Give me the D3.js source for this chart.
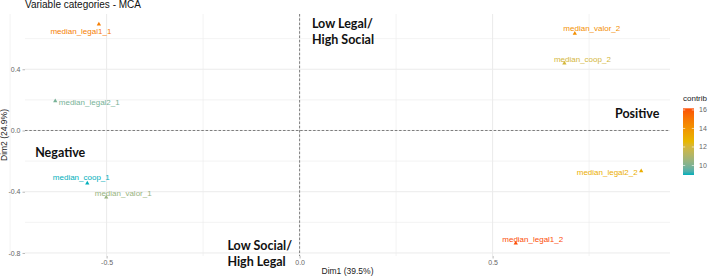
<html>
<head>
<style type="text/css">
  body { margin: 0; background: #fff; }
  text { font-family: "Liberation Sans", Arial, sans-serif; }
  .grid { stroke: #ebebeb; fill: none; }
  .zero { stroke: #333; stroke-width: 0.6; stroke-dasharray: 2.5,1.8; }
  .tick-text { fill: #666; font-size: 7px; }
  .tick-mark { stroke: #888; stroke-width: 0.6; }
  .quad { font-family: Lato, "Open Sans", sans-serif; font-weight: bold; font-size: 12.5px; fill: #111; }
  .cat { font-size: 8px; }
</style>
<script src="https://cdn.jsdelivr.net/npm/d3@7"></script>
</head>
<body>
<script type="text/javascript">

// MCA variable categories
var categories = ["median_legal1_1", "median_legal1_2", "median_legal2_1", "median_legal2_2",
                  "median_coop_1", "median_coop_2", "median_valor_1", "median_valor_2"];
var dim1 = [-0.520, 0.560, -0.633, 0.885, -0.550, 0.686, -0.501, 0.713];
var dim2 = [0.694, -0.737, 0.193, -0.265, -0.345, 0.439, -0.437, 0.633];
var contrib = [14.8, 16.18, 9.9, 13.0, 8.97, 12.0, 10.5, 14.2];

var xTicks = [-0.5, 0.0, 0.5];
var yTicks = [0.4, 0.0, -0.4, -0.8];
var xMinor = [-0.75, -0.25, 0.25, 0.75];
var yMinor = [0.6, 0.2, -0.2, -0.6];
var legendTicks = [10, 12, 14, 16];

// quadrant notes, anchored in data coords
var notes = [
  {lines: ["Low Legal/", "High Social"], x: 0.032, y: 0.670},
  {lines: ["Low Social/", "High Legal"], x: -0.187, y: -0.781},
  {lines: ["Negative"], x: -0.685, y: -0.173},
  {lines: ["Positive"], x: 0.817, y: 0.082}
];

// label offsets (px) as placed by repel in the original
var labelShift = [[-18, 7], [17, -4], [34, 1], [-34, 1], [-6, -6], [18, -4], [17, -4], [17, -5]];

var W = 708, H = 278;
var pLeft = 25, pRight = 670, pTop = 14, pBottom = 256;

var x = d3.scaleLinear().domain([-0.7114, 0.9596]).range([pLeft, pRight]);
var y = d3.scaleLinear().domain([-0.820, 0.761]).range([pBottom, pTop]);

var cExt = d3.extent(contrib);
var color = d3.scaleLinear()
  .domain([cExt[0], (cExt[0] + cExt[1]) / 2, cExt[1]])
  .range(["#00AFBB", "#E7B800", "#FC4E07"])
  .interpolate(d3.interpolateLab);

var svg = d3.select("body").append("svg").attr("width", W).attr("height", H);

// grid
svg.selectAll("line.vminor").data(xMinor).enter().append("line")
  .attr("class", "grid").attr("stroke-width", 0.6)
  .attr("x1", function(d) { return x(d); }).attr("x2", function(d) { return x(d); })
  .attr("y1", pTop).attr("y2", pBottom);
svg.selectAll("line.hminor").data(yMinor).enter().append("line")
  .attr("class", "grid").attr("stroke-width", 0.6)
  .attr("y1", function(d) { return y(d); }).attr("y2", function(d) { return y(d); })
  .attr("x1", pLeft).attr("x2", pRight);
svg.selectAll("line.vmajor").data(xTicks).enter().append("line")
  .attr("class", "grid").attr("stroke-width", 1)
  .attr("x1", function(d) { return x(d); }).attr("x2", function(d) { return x(d); })
  .attr("y1", pTop).attr("y2", pBottom);
svg.selectAll("line.hmajor").data(yTicks).enter().append("line")
  .attr("class", "grid").attr("stroke-width", 1)
  .attr("y1", function(d) { return y(d); }).attr("y2", function(d) { return y(d); })
  .attr("x1", pLeft).attr("x2", pRight);

// axes
var fmt = function(d) { return d3.format(".1f")(d).replace("−", "-"); };
var xAxis = svg.append("g").attr("transform", "translate(0," + pBottom + ")")
  .call(d3.axisBottom(x).tickValues(xTicks).tickSize(2.5).tickPadding(2).tickFormat(fmt));
var yAxis = svg.append("g").attr("transform", "translate(" + pLeft + ",0)")
  .call(d3.axisLeft(y).tickValues(yTicks).tickSize(2.5).tickPadding(2).tickFormat(fmt));
[xAxis, yAxis].forEach(function(g) {
  g.attr("font-family", null).attr("font-size", null);
  g.select(".domain").remove();
  g.selectAll(".tick line").attr("class", "tick-mark");
  g.selectAll(".tick text").attr("class", "tick-text");
});

// zero lines
svg.append("line").attr("class", "zero")
  .attr("x1", pLeft).attr("x2", pRight).attr("y1", y(0)).attr("y2", y(0));
svg.append("line").attr("class", "zero")
  .attr("x1", x(0)).attr("x2", x(0)).attr("y1", pTop).attr("y2", pBottom);

// points
var idx = d3.range(categories.length);
svg.selectAll("path.pt").data(idx).enter().append("path")
  .attr("class", "pt")
  .attr("d", d3.symbol(d3.symbolTriangle).size(8))
  .attr("transform", function(i) { return "translate(" + x(dim1[i]) + "," + y(dim2[i]) + ")"; })
  .attr("fill", function(i) { return color(contrib[i]); });

svg.selectAll("text.cat").data(idx).enter().append("text")
  .attr("class", "cat")
  .attr("x", function(i) { return x(dim1[i]) + labelShift[i][0]; })
  .attr("y", function(i) { return y(dim2[i]) + labelShift[i][1]; })
  .attr("dy", "0.35em")
  .attr("text-anchor", "middle")
  .attr("fill", function(i) { return color(contrib[i]); })
  .text(function(i) { return categories[i]; });

// quadrant notes
notes.forEach(function(n) {
  var t = svg.append("text").attr("class", "quad")
    .attr("x", x(n.x)).attr("y", y(n.y));
  n.lines.forEach(function(l, k) {
    t.append("tspan").attr("x", x(n.x)).attr("dy", k ? 16 : 0).text(l);
  });
});

// titles
svg.append("text").attr("x", 25).attr("y", 8).attr("font-size", 10).attr("fill", "#111")
  .text("Variable categories - MCA");
svg.append("text").attr("x", (pLeft + pRight) / 2).attr("y", 274).attr("font-size", 8.5)
  .attr("text-anchor", "middle").attr("fill", "#222").text("Dim1 (39.5%)");
svg.append("text").attr("transform", "translate(7," + ((pTop + pBottom) / 2) + ") rotate(-90)")
  .attr("font-size", 8.5).attr("text-anchor", "middle").attr("fill", "#222").text("Dim2 (24.9%)");

// colour bar legend
var lgX = 683, lgW = 11, lgTop = 108.3, lgBot = 175;
var ly = d3.scaleLinear().domain(cExt).range([lgBot, lgTop]);
var grad = svg.append("defs").append("linearGradient").attr("id", "cbar")
  .attr("x1", 0).attr("y1", 1).attr("x2", 0).attr("y2", 0);
d3.range(0, 1.0001, 0.05).forEach(function(t) {
  grad.append("stop").attr("offset", t)
    .attr("stop-color", color(cExt[0] + t * (cExt[1] - cExt[0])));
});
svg.append("text").attr("x", lgX).attr("y", 101).attr("font-size", 8).attr("fill", "#222").text("contrib");
svg.append("rect").attr("x", lgX).attr("y", lgTop).attr("width", lgW).attr("height", lgBot - lgTop)
  .attr("fill", "url(#cbar)");
legendTicks.forEach(function(v) {
  svg.append("line").attr("x1", lgX).attr("x2", lgX + 2.2).attr("y1", ly(v)).attr("y2", ly(v))
    .attr("stroke", "#fff").attr("stroke-width", 0.6);
  svg.append("line").attr("x1", lgX + lgW - 2.2).attr("x2", lgX + lgW).attr("y1", ly(v)).attr("y2", ly(v))
    .attr("stroke", "#fff").attr("stroke-width", 0.6);
  svg.append("text").attr("class", "tick-text").attr("x", lgX + lgW + 5).attr("y", ly(v))
    .attr("dy", "0.35em").text(v);
});

</script>
</body>
</html>
